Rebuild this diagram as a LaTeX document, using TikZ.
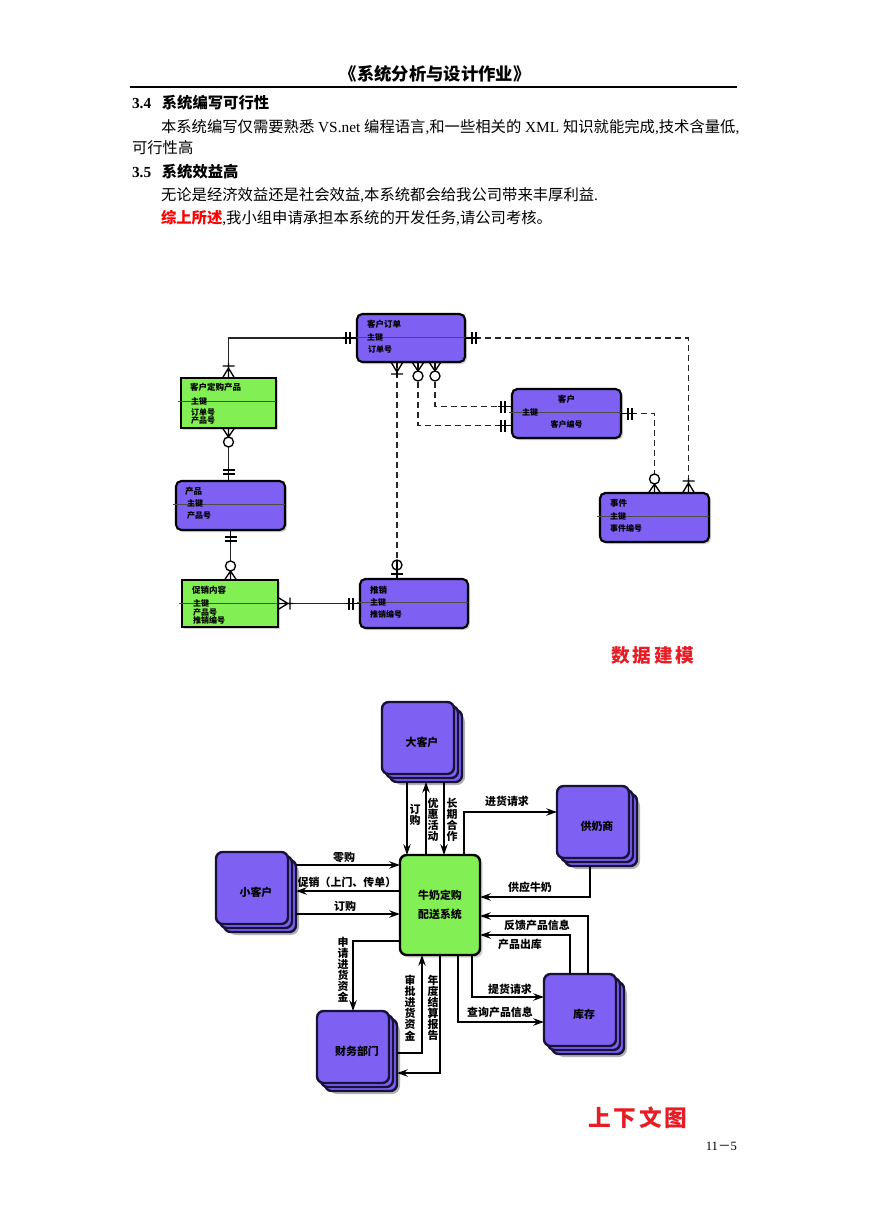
\documentclass[tikz,border=0pt]{standalone}
\usepackage{fontspec}
\setmainfont{Liberation Serif}
\newfontfamily\cjk{Noto Sans CJK SC}
\usetikzlibrary{calc,arrows.meta,shadows}
\definecolor{erpurple}{RGB}{126,96,242}
\definecolor{ergreen}{RGB}{130,240,84}
\definecolor{stackedge}{RGB}{22,18,56}
\definecolor{brushred}{RGB}{232,28,36}
\definecolor{hired}{RGB}{255,0,0}

\tikzset{
  every node/.style={inner sep=0pt, outer sep=0pt},
  body/.style={anchor=base west, font=\fontsize{11.5}{14}\selectfont},
  entbase/.style={draw=black, line width=1.6pt, drop shadow={shadow xshift=1.5pt, shadow yshift=-1.5pt, opacity=0.35}},
  entp/.style={entbase, fill=erpurple, rounded corners=4pt},
  entg/.style={entbase, fill=ergreen},
  sepline/.style={draw=black!70, line width=0.5pt},
  ertxt/.style={anchor=west, font=\cjk\bfseries\fontsize{6}{7}\selectfont},
  ertitle/.style={anchor=west, font=\cjk\bfseries\fontsize{6.4}{7}\selectfont},
  erline/.style={draw=black!85, line width=1.4pt},
  erdash/.style={erline, dash pattern=on 4.5pt off 3pt},
  mk/.style={draw=black, line width=1pt, solid},
  bars/.pic={\draw[mk] (0,0)--(14,0) (7,-6)--(7,6) (11,-6)--(11,6);},
  crowbar/.pic={\draw[mk] (0,-6)--(10,0)--(0,6) (0,0)--(15,0) (12,-6)--(12,6);},
  crowcirc/.pic={\draw[mk] (0,-6)--(9,0)--(0,6) (0,0)--(9,0); \draw[mk,fill=white] (14,0) circle[radius=5];},
  circbar/.pic={\draw[mk] (0,0)--(19,0) (5,-6)--(5,6); \draw[mk] (14,0) circle[radius=5];},
  sysbox/.style={draw=black, line width=1.8pt, fill=ergreen, rounded corners=5pt, minimum width=60pt, minimum height=75pt, align=center, font=\cjk\bfseries\fontsize{8.2}{14.25}\selectfont, drop shadow={shadow xshift=2pt, shadow yshift=-2pt, opacity=0.35}},
  stacklayer/.style={draw=stackedge, line width=1.8pt, fill=erpurple, rounded corners=5pt},
  stackshadow/.style={fill=black, opacity=0.3, rounded corners=6pt},
  stacknode/.style={minimum width=60pt, minimum height=60pt, font=\cjk\bfseries\fontsize{8.2}{9}\selectfont},
  flow/.style={draw=black, line width=1.4pt, -{Stealth[length=8pt,width=5.5pt]}},
  lbl/.style={font=\cjk\bfseries\fontsize{8.2}{8.3}\selectfont, align=center},
}

\newcommand\stackbox[4]{%
  \fill[stackshadow] ($(#2,#3)+(-28,-28)$) rectangle ($(#2,#3)+(43,43)$);
  \foreach \lay in {8,4,0}{%
    \draw[stacklayer] ($(#2,#3)+(-40+\lay,-40+\lay)$) rectangle ($(#2,#3)+(32+\lay,32+\lay)$);
  }%
  \node[stacknode] (#1) at (#2,#3) {#4};
}

\begin{document}
\begin{tikzpicture}[x=0.75pt,y=-0.75pt]
\fill[white] (0,0) rectangle (869,1228);
\useasboundingbox (0,0) rectangle (869,1228);

% ---------- header text ----------
\node[font=\cjk\bfseries\fontsize{13}{15}\selectfont] (title) at (435,74) {《系统分析与设计作业》};
\draw[line width=0.8pt] (130,87) -- (737,87);
\node[body] (t1) at (132,108) {\bfseries 3.4\hspace{0.7em}{\cjk 系统编写可行性}};
\node[body] (t2) at (161,132) {{\cjk 本系统编写仅需要熟悉} VS.net {\cjk 编程语言},{\cjk 和一些相关的} XML {\cjk 知识就能完成},{\cjk 技术含量低},};
\node[body] (t3) at (132,153) {\cjk 可行性高};
\node[body] (t4) at (132,177) {\bfseries 3.5\hspace{0.7em}{\cjk 系统效益高}};
\node[body] (t5) at (161,200) {{\cjk 无论是经济效益还是社会效益},{\cjk 本系统都会给我公司带来丰厚利益}.};
\node[body] (t6) at (161,223) {{\cjk\bfseries\color{hired}综上所述},{\cjk 我小组申请承担本系统的开发任务},{\cjk 请公司考核。}};

% ---------- ER diagram ----------
\node[entp, minimum width=81pt, minimum height=36pt] (ko) at (411,338) {};
\node[entg, minimum width=71.25pt, minimum height=37.5pt] (kdp) at (228.5,403) {};
\node[entp, minimum width=81.75pt, minimum height=36.75pt] (cp) at (230.5,505.5) {};
\node[entg, minimum width=72pt, minimum height=35.25pt] (cx) at (230,603.5) {};
\node[entp, minimum width=81pt, minimum height=36.75pt] (tx) at (414,603.5) {};
\node[entp, minimum width=81.75pt, minimum height=36.75pt] (kh) at (566.5,413.5) {};
\node[entp, minimum width=81.75pt, minimum height=36.75pt] (sj) at (654.5,517.5) {};

\foreach \e in {ko,kdp,cp,cx,tx,kh,sj}{
  \draw[sepline] ($(\e.north west)+(-3,23)$) -- ($(\e.north east)+(0,23)$);
}

\node[ertitle] (ko1) at ($(ko.north west)+(10,10)$) {客户订单};
\node[ertxt] (ko2) at ($(ko.north west)+(10,23)$) {主键};
\node[ertxt] (ko3) at ($(ko.north west)+(11,35)$) {订单号};

\node[ertitle] (kdp1) at ($(kdp.north west)+(9,9)$) {客户定购产品};
\node[ertxt] (kdp2) at ($(kdp.north west)+(10,23)$) {主键};
\node[ertxt] (kdp3) at ($(kdp.north west)+(10,34)$) {订单号};
\node[ertxt] (kdp4) at ($(kdp.north west)+(10,42)$) {产品号};

\node[ertitle] (cp1) at ($(cp.north west)+(9,10)$) {产品};
\node[ertxt] (cp2) at ($(cp.north west)+(11,22)$) {主键};
\node[ertxt] (cp3) at ($(cp.north west)+(11,34)$) {产品号};

\node[ertitle] (cx1) at ($(cx.north west)+(10,10)$) {促销内容};
\node[ertxt] (cx2) at ($(cx.north west)+(11,23)$) {主键};
\node[ertxt] (cx3) at ($(cx.north west)+(11,32)$) {产品号};
\node[ertxt] (cx4) at ($(cx.north west)+(11,40)$) {推销编号};

\node[ertitle] (tx1) at ($(tx.north west)+(10,11)$) {推销};
\node[ertxt] (tx2) at ($(tx.north west)+(10,23)$) {主键};
\node[ertxt] (tx3) at ($(tx.north west)+(10,35)$) {推销编号};

\node[ertitle, anchor=center] (kh1) at ($(kh.north)+(0,10)$) {客户};
\node[ertxt] (kh2) at ($(kh.north west)+(10,23)$) {主键};
\node[ertxt, anchor=center] (kh3) at ($(kh.north)+(0,35)$) {客户编号};

\node[ertitle] (sj1) at ($(sj.north west)+(10,10)$) {事件};
\node[ertxt] (sj2) at ($(sj.north west)+(10,23)$) {主键};
\node[ertxt] (sj3) at ($(sj.north west)+(10,35)$) {事件编号};

% solid relationships
\draw[erline] (ko.west) -| (kdp.north);
\pic[rotate=180] at (ko.west) {bars};
\pic[rotate=90] at (kdp.north) {crowbar};

\draw[erline] (kdp.south) -- (kdp.south |- cp.north);
\pic[rotate=-90] at (kdp.south) {crowcirc};
\pic[rotate=90] at (kdp.south |- cp.north) {bars};

\draw[erline] (cp.south) -- (cp.south |- cx.north);
\pic[rotate=-90] at (cp.south) {bars};
\pic[rotate=90] at (cp.south |- cx.north) {crowcirc};

\draw[erline] (cx.east) -- (cx.east -| tx.west);
\pic at (cx.east) {crowbar};
\pic[rotate=180] at (cx.east -| tx.west) {bars};

% dashed relationships
\coordinate (a5) at ($(ko.south)+(-14,0)$);
\coordinate (a6) at ($(ko.south)+(24,0)$);
\coordinate (a7) at ($(ko.south)+(7,0)$);
\coordinate (b6) at ($(kh.west)+(0,-7)$);
\coordinate (b7) at ($(kh.west)+(0,12)$);
\coordinate (b9) at ($(sj.north)+(34,0)$);

\draw[erdash] (a5) -- (a5 |- tx.north);
\pic[rotate=-90] at (a5) {crowbar};
\pic[rotate=90] at (a5 |- tx.north) {circbar};

\draw[erdash] (a6) |- (b6);
\pic[rotate=-90] at (a6) {crowcirc};
\pic[rotate=180] at (b6) {bars};

\draw[erdash] (a7) |- (b7);
\pic[rotate=-90] at (a7) {crowcirc};
\pic[rotate=180] at (b7) {bars};

\draw[erdash] (kh.east) -| (sj.north);
\pic at (kh.east) {bars};
\pic[rotate=90] at (sj.north) {crowcirc};

\draw[erdash] (ko.east) -| (b9);
\pic at (ko.east) {bars};
\pic[rotate=90] at (b9) {crowbar};

\node[font=\cjk\bfseries\fontsize{14}{16}\selectfont, text=brushred] (er) at (653,655) {数\hspace{2pt}据\hspace{2pt}建\hspace{2pt}模};

% ---------- context diagram ----------
\stackbox{dk}{422}{742}{大客户}
\stackbox{gn}{597}{826}{供奶商}
\stackbox{xk}{256}{892}{小客户}
\stackbox{kc}{584}{1014}{库存}
\stackbox{cw}{357}{1051}{财务部门}
\node[sysbox] (sys) at (440,905) {牛奶定购\\配送系统};

\draw[flow] ($(dk.south)+(-15,0)$) -- ($(sys.north)+(-33,0)$);
\draw[flow] ($(sys.north)+(-14,0)$) -- ($(dk.south)+(4,0)$);
\draw[flow] ($(dk.south)+(22,0)$) -- ($(sys.north)+(4,0)$);
\draw[flow] ($(sys.north)+(24,0)$) |- ($(gn.west)+(0,-14)$);

\draw[flow] ($(xk.east)+(0,-27)$) -- ($(sys.west)+(0,-40)$);
\draw[flow] ($(sys.west)+(0,-14)$) -- ($(xk.east)+(0,-1)$);
\draw[flow] ($(xk.east)+(0,22)$) -- ($(sys.west)+(0,9)$);

\draw[flow] ($(gn.south)+(-7,0)$) |- ($(sys.east)+(0,-8)$);
\draw[flow] ($(kc.north)+(4,0)$) |- ($(sys.east)+(0,11)$);
\draw[flow] ($(kc.north)+(-14,0)$) |- ($(sys.east)+(0,30)$);
\draw[flow] ($(sys.south)+(32,0)$) |- ($(kc.west)+(0,-17)$);
\draw[flow] ($(sys.south)+(18,0)$) |- ($(kc.west)+(0,8)$);

\draw[flow] ($(sys.west)+(0,36)$) -| ($(cw.north)+(-4,0)$);
\draw[flow] ($(cw.east)+(0,2)$) -| ($(sys.south)+(-18,0)$);
\draw[flow] (sys.south) |- ($(cw.east)+(0,22)$);

\node[lbl] (l1) at (415,815) {订\\购};
\node[lbl] (l2) at (433,820) {优\\惠\\活\\动};
\node[lbl] (l3) at (452,820) {长\\期\\合\\作};
\node[lbl] (l4) at (507,801) {进货请求};
\node[lbl] (l5) at (344,857) {零购};
\node[lbl] (l6) at (347,882) {促销（上门、传单）};
\node[lbl] (l7) at (345,906) {订购};
\node[lbl] (l8) at (530,887) {供应牛奶};
\node[lbl] (l9) at (537,925) {反馈产品信息};
\node[lbl] (l10) at (520,944) {产品出库};
\node[lbl] (l11) at (510,989) {提货请求};
\node[lbl] (l12) at (500,1012) {查询产品信息};
\node[lbl] (l13) at (343,970) {申\\请\\进\\货\\资\\金};
\node[lbl] (l14) at (410,1008) {审\\批\\进\\货\\资\\金};
\node[lbl] (l15) at (433,1008) {年\\度\\结\\算\\报\\告};

\node[font=\cjk\bfseries\fontsize{17}{19}\selectfont, text=brushred] (cd) at (638,1118) {上\hspace{2pt}下\hspace{2pt}文\hspace{2pt}图};
\node[anchor=base east, font=\fontsize{9.5}{11}\selectfont] (pg) at (737,1150) {11{\cjk －}5};
\end{tikzpicture}
\end{document}
